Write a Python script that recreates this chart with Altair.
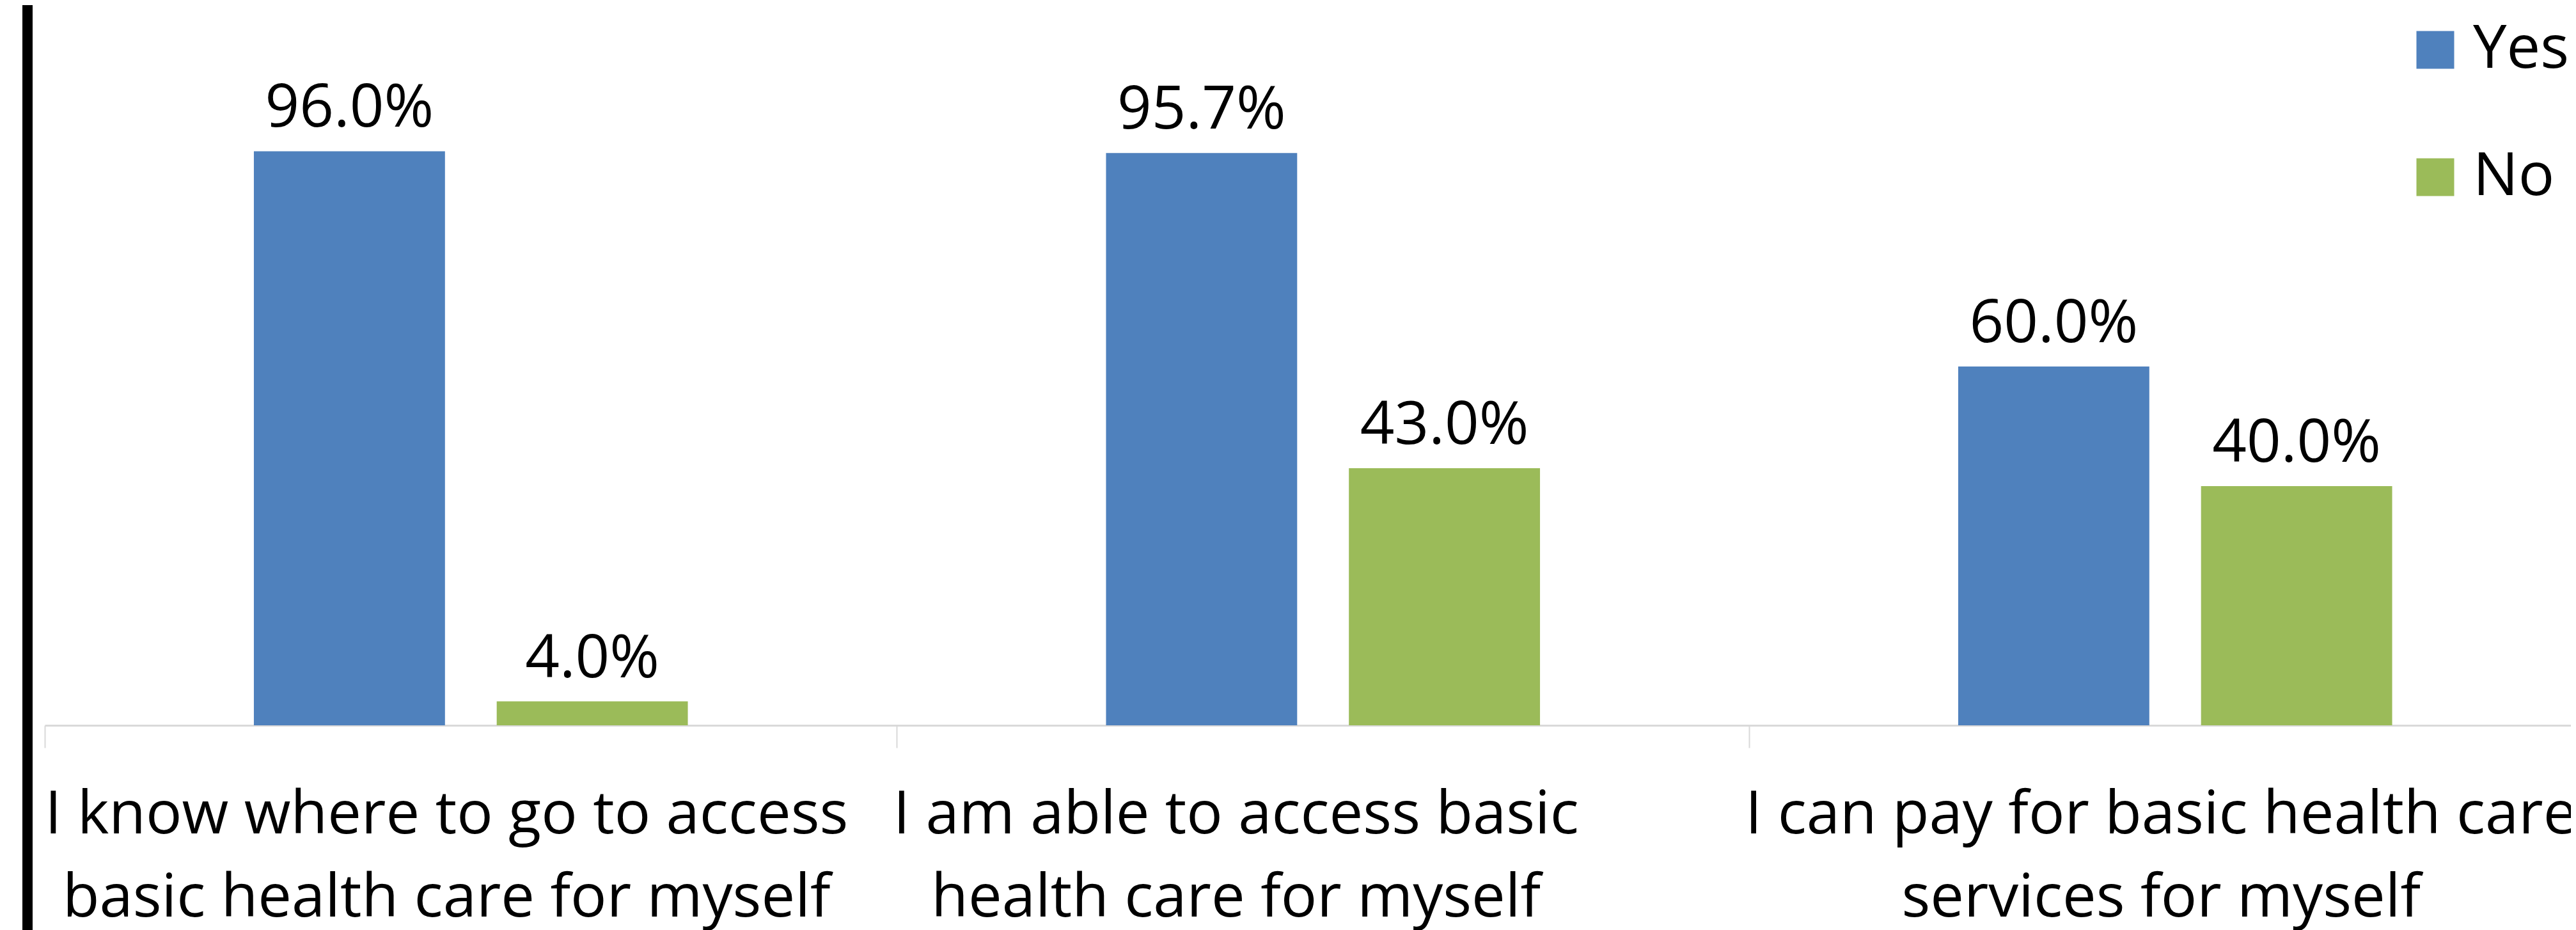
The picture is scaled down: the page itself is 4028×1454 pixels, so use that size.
import altair as alt
import pandas as pd

# ---- data ----
categories = [
    "I know where to go to access\nbasic health care for myself",
    "I am able to access basic\nhealth care for myself",
    "I can pay for basic health care\nservices for myself",
]
responses = ["Yes", "No"]
yes_values = [96.0, 95.7, 60.0]
no_values = [4.0, 43.0, 40.0]
colors = ["#4F81BD", "#9BBB59"]

rows = []
for c, y, n in zip(categories, yes_values, no_values):
    rows.append({"cat": c, "resp": "Yes", "val": y})
    rows.append({"cat": c, "resp": "No", "val": n})
df = pd.DataFrame(rows)
cat_df = pd.DataFrame({"cat": categories})

FONT = "Open Sans"
FS = 94

x_enc = alt.X(
    "cat:N",
    sort=categories,
    scale=alt.Scale(paddingInner=0, paddingOuter=0),
    axis=alt.Axis(
        title=None,
        labels=False,
        grid=False,
        bandPosition=0,
        ticks=True,
        tickSize=35,
        tickWidth=2,
        tickColor="#D9D9D9",
        domainColor="#D9D9D9",
        domainWidth=3,
    ),
)
xoff_enc = alt.XOffset(
    "resp:N", sort=responses, scale=alt.Scale(paddingInner=0.213, paddingOuter=0.861)
)
y_enc = alt.Y("val:Q", scale=alt.Scale(domain=[0, 120]), axis=None)

bars = alt.Chart(df).mark_bar().encode(
    x=x_enc,
    xOffset=xoff_enc,
    y=y_enc,
    color=alt.Color(
        "resp:N",
        sort=responses,
        scale=alt.Scale(domain=responses, range=colors),
        legend=alt.Legend(
            title=None,
            orient="none",
            legendX=3691,
            legendY=19,
            direction="vertical",
            symbolType="square",
            symbolSize=3481,
            symbolStrokeWidth=0,
            symbolOpacity=1,
            labelFont=FONT,
            labelFontSize=FS,
            labelColor="black",
            labelOffset=12,
            rowPadding=105,
            padding=0,
        ),
    ),
)

value_labels = (
    alt.Chart(df)
    .transform_calculate(label="format(datum.val, '.1f') + '%'")
    .mark_text(baseline="alphabetic", dy=-38, font=FONT, fontSize=FS, color="black")
    .encode(x=x_enc, xOffset=xoff_enc, y=y_enc, text="label:N")
)

nudges = [-38, -136, -22]
cat_layers = []
for c, d in zip(categories, nudges):
    cat_layers.append(
        alt.Chart(cat_df)
        .transform_filter(alt.datum.cat == c)
        .mark_text(
            baseline="alphabetic",
            align="center",
            font=FONT,
            fontSize=FS,
            color="black",
            lineBreak="\n",
            lineHeight=130,
            dx=d,
        )
        .encode(x=alt.X("cat:N", sort=categories), y=alt.value(1291), text="cat:N")
    )

left_bar = alt.Chart(cat_df).mark_rule(color="black", strokeWidth=16).encode(
    x=alt.value(-27), y=alt.value(-20), y2=alt.value(1460)
)

chart = (
    alt.layer(bars, value_labels, *cat_layers, left_bar)
    .properties(
        width=3997.5,
        height=1122,
        autosize=alt.AutoSizeParams(type="none"),
        padding={"left": 62, "top": 4, "right": -47.5, "bottom": 320},
        background="white",
    )
    .configure_view(stroke=None)
)

chart.save("out.html", embed_options={"renderer": "svg", "actions": False})
